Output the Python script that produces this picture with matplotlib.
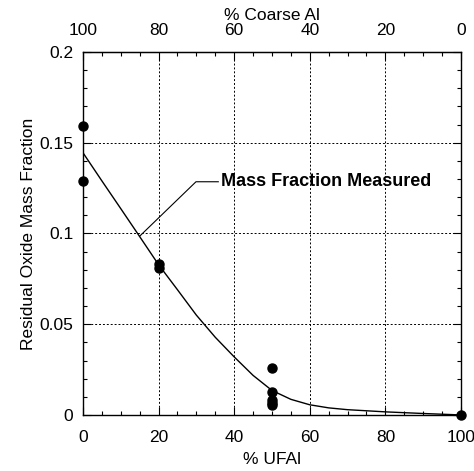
import matplotlib.pyplot as plt
from matplotlib.ticker import FixedLocator, MultipleLocator

plt.rcParams['font.family'] = ['Liberation Sans', 'DejaVu Sans']

# measured points
ufal_pts = [0, 0, 20, 20, 50, 50, 50, 50, 50, 100]
oxide_pts = [0.159, 0.129, 0.083, 0.081, 0.026, 0.0125, 0.008, 0.0065, 0.0055, 0.0]

# fitted curve
ufal_fit = [0, 5, 10, 15, 20, 25, 30, 35, 40, 45, 50, 55, 60, 65, 70, 80, 90, 100]
oxide_fit = [0.1445, 0.129, 0.1137, 0.0983, 0.0828, 0.069, 0.055, 0.0428, 0.032, 0.0218,
             0.0135, 0.0086, 0.0056, 0.0039, 0.0029, 0.0017, 0.0008, 0.0]

x_ticks = [0, 20, 40, 60, 80, 100]
y_ticks = [0, 0.05, 0.1, 0.15, 0.2]
y_labels = ['0', '0.05', '0.1', '0.15', '0.2']

# annotation leader: text anchor, elbow, target on curve
label_xy = (36.6, 0.1285)
elbow_xy = (29.9, 0.1285)
target_xy = (15.0, 0.0985)

FS = 12.5

fig = plt.figure(figsize=(4.74, 4.71), dpi=100)
ax = fig.add_axes([0.175, 0.119, 0.7976, 0.7706])

ax.plot(ufal_fit, oxide_fit, color='black', lw=1.0)
ax.plot(ufal_pts, oxide_pts, 'o', color='black', ms=6.5, clip_on=False, zorder=5)

ax.plot([label_xy[0] - 0.8, elbow_xy[0], target_xy[0]],
        [elbow_xy[1], elbow_xy[1], target_xy[1]], color='black', lw=0.8)
ax.text(label_xy[0], label_xy[1], 'Mass Fraction Measured', fontsize=13,
        fontweight='bold', va='center', ha='left')

ax.set_xlim(0, 100)
ax.set_ylim(0, 0.2)
ax.xaxis.set_major_locator(FixedLocator(x_ticks))
ax.xaxis.set_minor_locator(MultipleLocator(5))
ax.yaxis.set_minor_locator(MultipleLocator(0.01))
ax.set_yticks(y_ticks)
ax.set_yticklabels(y_labels)
ax.tick_params(which='both', direction='in', right=True, top=False, labelsize=FS)
ax.tick_params(which='major', length=6, width=0.8)
ax.tick_params(which='minor', length=3, width=0.8)
ax.tick_params(axis='x', which='major', pad=11)
ax.tick_params(axis='y', which='major', pad=7)
ax.grid(True, which='major', linestyle=(0, (2, 2)), color='black', lw=0.7)

ax.set_xlabel('% UFAl', fontsize=FS, labelpad=5)
ax.set_ylabel('Residual Oxide Mass Fraction', fontsize=FS, labelpad=2)

top = ax.secondary_xaxis('top', functions=(lambda x: 100 - x, lambda x: 100 - x))
top.xaxis.set_major_locator(FixedLocator(x_ticks))
top.xaxis.set_minor_locator(MultipleLocator(5))
top.tick_params(which='both', direction='in', labelsize=FS)
top.tick_params(which='major', length=6, width=0.8, pad=10)
top.tick_params(which='minor', length=3, width=0.8)
top.set_xlabel('% Coarse Al', fontsize=FS, labelpad=2)

for s in ax.spines.values():
    s.set_linewidth(1.0)

fig.savefig('out.png', dpi=100)
